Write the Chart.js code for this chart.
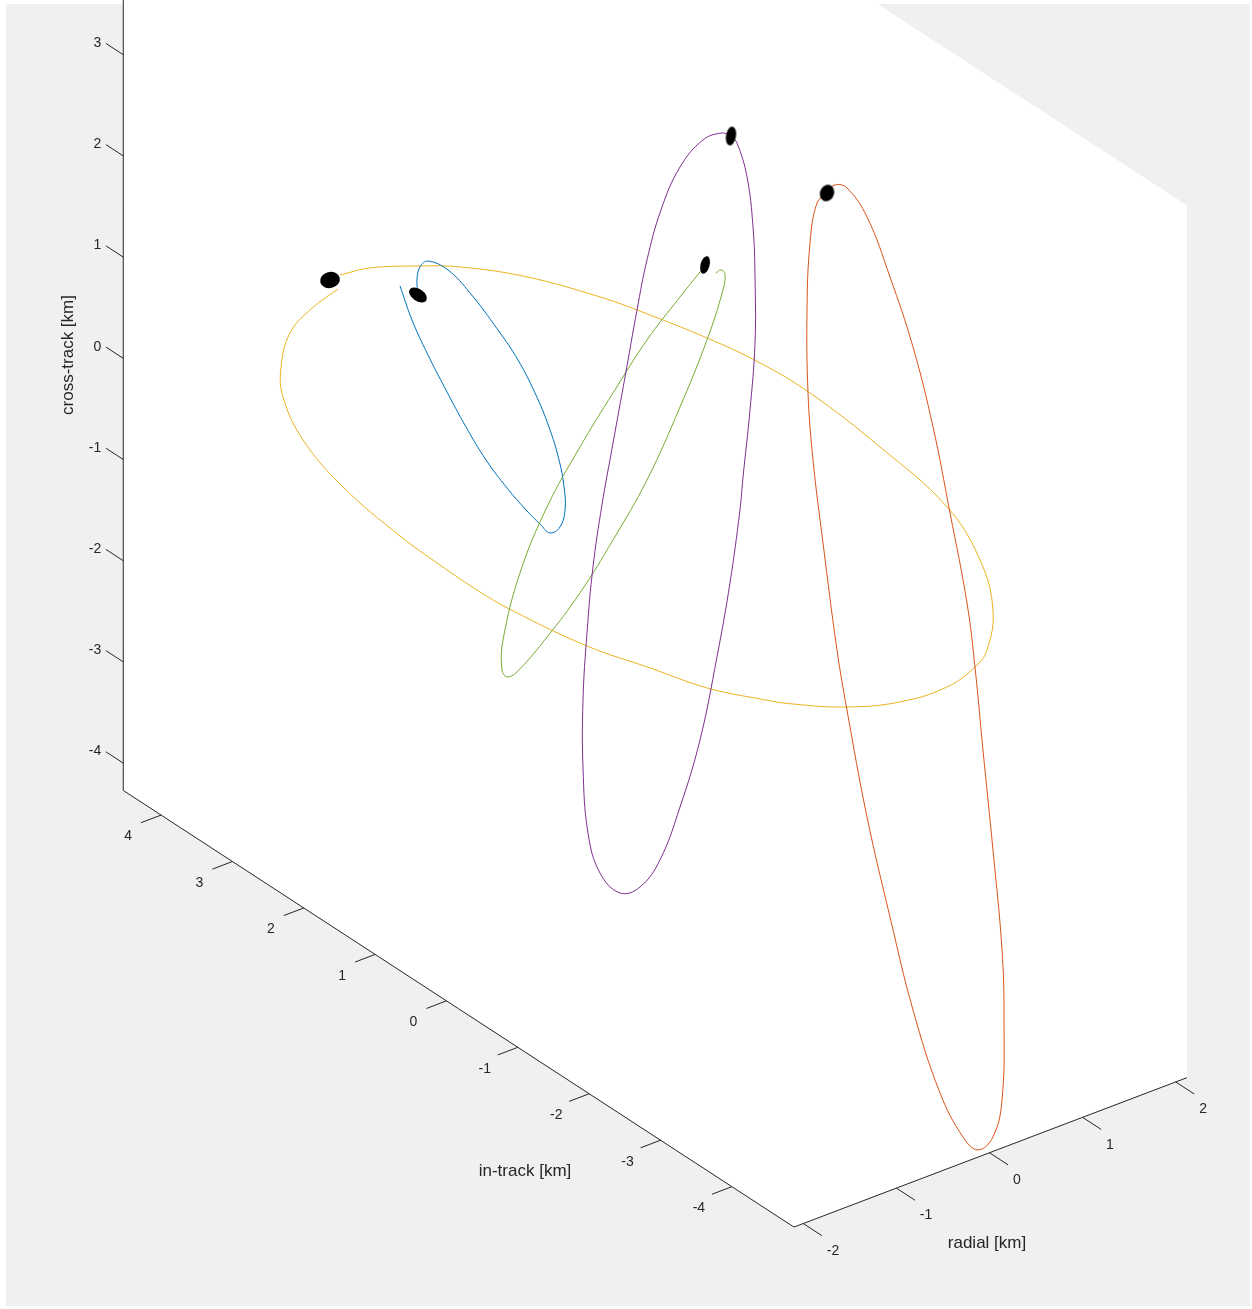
<!DOCTYPE html>
<html><head><meta charset="utf-8">
<script src="https://cdn.jsdelivr.net/npm/chart.js@4.4.1/dist/chart.umd.min.js"></script>
<style>html,body{margin:0;padding:0;background:#fff;overflow:hidden}canvas{display:block}</style>
</head><body>
<canvas id="c" width="1252" height="1309"></canvas>
<script>
// ---- axis limits and ticks (km) ----
const radialLim = [-2.10, 2.12];
const inTrackLim = [-4.87, 4.53];
const crossTrackLim = [-4.27, 4.35];
const radialTicks = [-2, -1, 0, 1, 2];
const inTrackTicks = [-4, -3, -2, -1, 0, 1, 2, 3, 4];
const crossTrackTicks = [-4, -3, -2, -1, 0, 1, 2, 3];

// ---- trajectories (km) ----
const yellowRadial = 0;
const yellowInTrack = [4.233,3.812,3.111,2.551,1.612,0.589,0.070,-0.911,-1.654,-2.355,-3.336,-4.275,-4.737,-4.919,-4.835,-4.667,-4.275,-3.616,-2.873,-2.116,-1.654,-0.911,-0.112,0.771,1.808,2.270,2.831,3.392,4.190,4.751,5.031,5.059,4.933,4.653,4.261];
const yellowCrossTrack = [0.225,0.488,0.829,1.077,1.409,1.681,1.790,1.964,2.058,2.083,2.000,1.838,1.527,1.116,0.682,0.437,0.059,-0.391,-0.782,-1.100,-1.262,-1.494,-1.663,-1.852,-1.981,-2.006,-1.997,-1.967,-1.850,-1.642,-1.347,-1.063,-0.669,-0.313,0.074];

const blueRadial = -1;
const blueInTrack = [2.087,1.919,1.708,1.442,1.162,0.882,0.587,0.307,0.125,-0.015,-0.156,-0.226,-0.212,-0.142,-0.001,0.195,0.433,0.713,1.106,1.414,1.694,1.807,1.849,1.835];
const blueCrossTrack = [1.452,1.193,0.963,0.719,0.483,0.286,0.144,0.045,0.000,-0.024,0.100,0.299,0.521,0.755,1.017,1.263,1.479,1.647,1.833,1.918,1.878,1.768,1.620,1.488];

const greenRadial = 0;
const greenInTrack = [-1.037,-1.107,-1.163,-1.135,-0.911,-0.533,-0.070,0.406,0.869,1.331,1.752,1.892,1.962,1.948,1.710,1.331,0.869,0.406,-0.070,-0.533,-0.813,-0.883];
const greenCrossTrack = [2.664,2.726,2.712,2.541,1.945,1.109,0.175,-0.636,-1.372,-2.020,-2.558,-2.672,-2.635,-2.332,-1.561,-0.735,0.070,0.816,1.558,2.196,2.571,2.663];

const purpleRadial = 0;
const purpleInTrack = [-1.247,-1.331,-1.472,-1.556,-1.584,-1.584,-1.514,-1.416,-1.373,-1.233,-1.051,-0.813,-0.533,-0.252,0.028,0.308,0.589,0.757,0.827,0.827,0.771,0.687,0.561,0.406,0.238,0.070,-0.070,-0.266,-0.533,-0.855,-1.121,-1.247];
const purpleCrossTrack = [4.114,4.084,3.812,3.357,2.875,2.223,1.530,0.822,0.476,-0.309,-1.123,-2.053,-2.844,-3.496,-3.892,-4.080,-4.011,-3.693,-3.073,-2.411,-1.723,-1.033,-0.362,0.322,1.051,1.790,2.349,2.933,3.480,3.895,4.086,4.114];

const redRadial = 1;
const redInTrack = [-1.288,-1.400,-1.568,-1.849,-2.171,-2.493,-2.774,-3.012,-3.250,-3.362,-3.474,-3.614,-3.741,-3.769,-3.741,-3.614,-3.404,-3.194,-2.872,-2.493,-2.171,-1.849,-1.568,-1.428,-1.232,-1.092,-1.022,-1.008,-1.050,-1.148,-1.288];
const redCrossTrack = [3.220,3.351,3.398,3.240,2.795,2.252,1.590,0.850,0.069,-0.512,-1.281,-2.204,-3.134,-3.783,-4.616,-5.040,-5.265,-5.233,-4.946,-4.299,-3.529,-2.689,-1.760,-1.231,-0.264,0.492,1.122,1.936,2.617,3.057,3.220];

// current positions (yellow, blue, green, purple, red)
const markerRadial = [0, -1, 0, 0, 1];
const markerInTrack = [4.373, 1.835, -0.883, -1.247, -1.288];
const markerCrossTrack = [0.112, 1.478, 2.673, 4.114, 3.220];

// ---- view (3-D projection onto the page plane) ----
const VIEW = {ox: 642, oy: 494.4, rx: 93.1, ry: -35.4, tx: -71.35, ty: -46.45, zy: -101.2};
function proj(r, t, z) {
  return {x: VIEW.ox + VIEW.rx * r + VIEW.tx * t, y: VIEW.oy + VIEW.ry * r + VIEW.ty * t + VIEW.zy * z};
}
function track(r, ts, zs) { return ts.map((t, i) => proj(r, t, zs[i])); }

const FONT = "'Liberation Sans', Arial, Helvetica, sans-serif";
const AXIS_COLOR = '#262626';

function makeMarker(w, h, rot) {
  const s = Math.ceil(Math.max(w, h)) + 4;
  const c = document.createElement('canvas');
  c.width = s; c.height = s;
  const g = c.getContext('2d');
  g.translate(s / 2, s / 2);
  g.rotate(rot * Math.PI / 180);
  g.beginPath();
  g.ellipse(0, 0, w / 2, h / 2, 0, 0, Math.PI * 2);
  g.fillStyle = '#000';
  g.fill();
  return c;
}
const markerStyles = [makeMarker(20, 16, -15), makeMarker(20, 12, 35), makeMarker(9, 18, 15), makeMarker(10, 19, 10), makeMarker(14, 17, 20)];

const backdrop = {
  id: 'backdrop',
  beforeDraw(chart) {
    const ctx = chart.ctx, xs = chart.scales.x, ys = chart.scales.y;
    const P = (r, t, z) => { const p = proj(r, t, z); return [xs.getPixelForValue(p.x), ys.getPixelForValue(p.y)]; };
    ctx.save();
    ctx.fillStyle = '#ffffff';
    ctx.fillRect(0, 0, chart.width, chart.height);
    ctx.fillStyle = '#f0f0f0';
    ctx.fillRect(6, 4, 1244, 1302);
    const [r0, r1] = radialLim, [t0, t1] = inTrackLim, [z0, z1] = crossTrackLim;
    const poly = [P(r0, t1, z0), P(r0, t0, z0), P(r1, t0, z0), P(r1, t0, z1), P(r1, t1, z1), P(r0, t1, z1)];
    ctx.beginPath();
    ctx.rect(6, 4, 1244, 1302);
    ctx.clip();
    ctx.beginPath();
    poly.forEach((p, i) => i ? ctx.lineTo(p[0], p[1]) : ctx.moveTo(p[0], p[1]));
    ctx.closePath();
    ctx.fillStyle = '#ffffff';
    ctx.fill();
    ctx.restore();
  },
  beforeDatasetsDraw(chart) {
    const ctx = chart.ctx, xs = chart.scales.x, ys = chart.scales.y;
    const P = (r, t, z) => { const p = proj(r, t, z); return [xs.getPixelForValue(p.x), ys.getPixelForValue(p.y)]; };
    const [r0, r1] = radialLim, [t0, t1] = inTrackLim, [z0, z1] = crossTrackLim;
    const seg = (a, b) => { ctx.beginPath(); ctx.moveTo(a[0], a[1]); ctx.lineTo(b[0], b[1]); ctx.stroke(); };
    ctx.save();
    ctx.strokeStyle = AXIS_COLOR;
    ctx.lineWidth = 1;
    seg(P(r0, t1, z0), P(r0, t1, z1));
    seg(P(r0, t0, z0), P(r0, t1, z0));
    seg(P(r0, t0, z0), P(r1, t0, z0));
    ctx.fillStyle = AXIS_COLOR;
    ctx.font = '14px ' + FONT;
    ctx.textBaseline = 'middle';
    ctx.textAlign = 'right';
    crossTrackTicks.forEach(z => {
      const a = P(r0, t1, z), b = P(r0, t1 + 0.243, z);
      seg(a, b);
      ctx.fillText(String(z), a[0] - 22, a[1] - 11.5);
    });
    ctx.textAlign = 'center';
    inTrackTicks.forEach(t => {
      const a = P(r0, t, z0), b = P(r0 - 0.215, t, z0);
      seg(a, b);
      ctx.fillText(String(t), a[0] - 33, a[1] + 21.5);
    });
    ctx.textAlign = 'left';
    radialTicks.forEach(r => {
      const a = P(r, t0, z0), b = P(r, t0 - 0.26, z0);
      seg(a, b);
      ctx.fillText(String(r), a[0] + 23.5, a[1] + 27.5);
    });
    ctx.font = '17px ' + FONT;
    ctx.textAlign = 'center';
    ctx.fillText('in-track [km]', 525, 1171);
    ctx.fillText('radial [km]', 987, 1243);
    ctx.translate(68, 355);
    ctx.rotate(-Math.PI / 2);
    ctx.fillText('cross-track [km]', 0, 0);
    ctx.restore();
  }
};

function lineSet(label, color, pts, order) {
  return {label, data: pts, showLine: true, borderColor: color, borderWidth: 1, pointRadius: 0,
          pointHoverRadius: 0, tension: 0.4, fill: false, order};
}

const datasets = [
  lineSet('yellow', '#EDB120', track(yellowRadial, yellowInTrack, yellowCrossTrack), 5),
  lineSet('blue', '#0072BD', track(blueRadial, blueInTrack, blueCrossTrack), 4),
  lineSet('green', '#77AC30', track(greenRadial, greenInTrack, greenCrossTrack), 3),
  lineSet('purple', '#7E2F8E', track(purpleRadial, purpleInTrack, purpleCrossTrack), 2),
  lineSet('red', '#D95319', track(redRadial, redInTrack, redCrossTrack), 1),
  {label: 'positions', data: markerInTrack.map((t, i) => proj(markerRadial[i], t, markerCrossTrack[i])),
   showLine: false, pointStyle: markerStyles, pointRadius: 8, pointHoverRadius: 8,
   backgroundColor: '#000', borderColor: '#000', order: 0}
];

new Chart(document.getElementById('c'), {
  type: 'scatter',
  data: {datasets},
  options: {
    responsive: false, animation: false, events: [],
    layout: {padding: 0, autoPadding: false},
    plugins: {legend: {display: false}, tooltip: {enabled: false}, title: {display: false}},
    scales: {
      x: {type: 'linear', min: 0, max: 1252, display: false},
      y: {type: 'linear', min: 0, max: 1309, reverse: true, display: false}
    }
  },
  plugins: [backdrop]
});
</script>
</body></html>
